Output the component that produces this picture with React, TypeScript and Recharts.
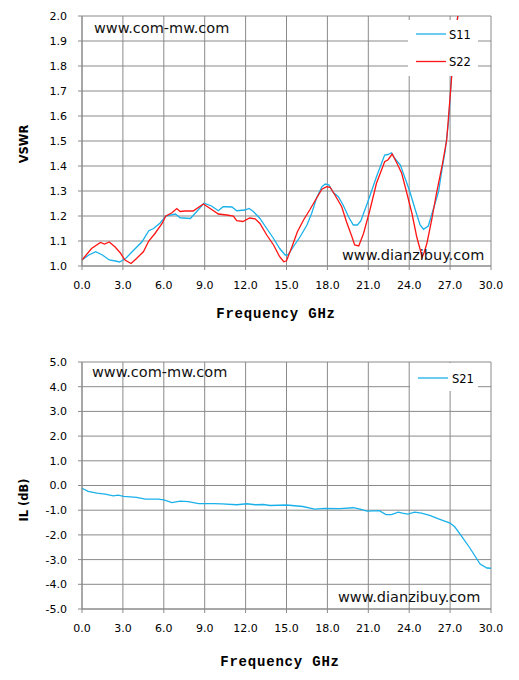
import { LineChart, Line, XAxis, YAxis, CartesianGrid, Legend } from 'recharts'

// VSWR, S11 (cyan)
const s11Freq = [0, 0.5, 1.0, 1.5, 2.0, 2.45, 2.75, 3.2, 3.8, 4.4, 4.9, 5.25, 5.75, 6.15, 6.85, 7.2, 7.95, 8.45, 8.95, 9.5, 10.0, 10.35, 10.6, 11.0, 11.35, 11.95, 12.25, 12.55, 13.05, 13.55, 14.05, 14.5, 14.9, 15.1, 15.5, 16.0, 16.5, 16.85, 17.2, 17.6, 17.85, 18.1, 18.45, 18.8, 19.15, 19.55, 19.9, 20.2, 20.45, 21.0, 21.6, 22.2, 22.45, 22.7, 22.95, 23.35, 23.7, 24.05, 24.45, 24.8, 25.05, 25.4, 25.75, 26.15, 26.4, 26.65, 26.9, 27.1, 27.35, 27.6]
const s11Vswr = [1.024, 1.044, 1.057, 1.044, 1.024, 1.02, 1.016, 1.03, 1.064, 1.097, 1.141, 1.15, 1.173, 1.2, 1.208, 1.193, 1.19, 1.22, 1.251, 1.24, 1.221, 1.237, 1.237, 1.236, 1.221, 1.224, 1.23, 1.219, 1.19, 1.15, 1.11, 1.07, 1.044, 1.044, 1.077, 1.117, 1.164, 1.211, 1.271, 1.317, 1.328, 1.325, 1.293, 1.277, 1.244, 1.197, 1.164, 1.164, 1.18, 1.262, 1.357, 1.444, 1.446, 1.453, 1.43, 1.404, 1.351, 1.297, 1.224, 1.164, 1.147, 1.16, 1.224, 1.297, 1.384, 1.464, 1.584, 1.757, 1.9, 2.02]

// VSWR, S22 (red)
const s22Freq = [0, 0.7, 1.35, 1.65, 2.0, 2.45, 2.8, 3.15, 3.6, 4.0, 4.5, 4.9, 5.35, 5.85, 6.15, 6.6, 6.95, 7.2, 7.55, 8.15, 8.9, 9.4, 10.0, 10.6, 11.1, 11.35, 11.8, 12.3, 12.7, 13.05, 13.55, 14.05, 14.5, 14.8, 15.0, 15.4, 15.8, 16.25, 16.7, 17.2, 17.6, 17.95, 18.2, 18.55, 19.05, 19.4, 19.8, 20.0, 20.3, 20.65, 21.1, 21.6, 22.2, 22.45, 22.75, 23.1, 23.45, 23.8, 24.2, 24.55, 24.8, 24.95, 25.1, 25.3, 25.65, 26.0, 26.4, 26.75, 27.0, 27.25, 27.65]
const s22Vswr = [1.024, 1.07, 1.094, 1.088, 1.096, 1.075, 1.053, 1.024, 1.01, 1.03, 1.057, 1.1, 1.13, 1.168, 1.2, 1.213, 1.23, 1.218, 1.22, 1.22, 1.248, 1.23, 1.208, 1.204, 1.2, 1.181, 1.178, 1.192, 1.189, 1.17, 1.124, 1.084, 1.037, 1.017, 1.021, 1.077, 1.137, 1.184, 1.224, 1.271, 1.307, 1.317, 1.315, 1.284, 1.237, 1.177, 1.117, 1.084, 1.08, 1.13, 1.22, 1.331, 1.417, 1.425, 1.448, 1.411, 1.371, 1.297, 1.211, 1.117, 1.067, 1.035, 1.055, 1.091, 1.184, 1.291, 1.397, 1.504, 1.677, 1.851, 2.04]

// insertion loss, S21
const s21Freq = [0, 0.45, 1.1, 1.7, 2.3, 2.65, 3.05, 4.0, 4.65, 5.6, 6.0, 6.6, 7.2, 7.8, 8.55, 9.65, 10.25, 11.35, 12.1, 12.7, 13.3, 13.8, 15.0, 16.2, 17.05, 17.8, 18.9, 19.9, 20.4, 20.9, 21.8, 22.3, 22.7, 23.2, 23.5, 23.9, 24.4, 24.9, 25.5, 26.2, 27.0, 27.35, 27.85, 28.45, 29.2, 29.7, 30.0]
const s21Loss = [-0.11, -0.24, -0.31, -0.35, -0.42, -0.39, -0.44, -0.48, -0.55, -0.55, -0.58, -0.69, -0.63, -0.65, -0.73, -0.73, -0.74, -0.78, -0.74, -0.78, -0.77, -0.81, -0.79, -0.85, -0.96, -0.93, -0.94, -0.9, -0.96, -1.04, -1.02, -1.18, -1.18, -1.08, -1.12, -1.16, -1.08, -1.12, -1.21, -1.36, -1.52, -1.68, -2.06, -2.53, -3.18, -3.34, -3.35]

const freqTicks = [0, 3, 6, 9, 12, 15, 18, 21, 24, 27, 30]
const vswrTicks = [1.0, 1.1, 1.2, 1.3, 1.4, 1.5, 1.6, 1.7, 1.8, 1.9, 2.0]
const lossTicks = [-5, -4, -3, -2, -1, 0, 1, 2, 3, 4, 5]

const toPoints = (f: number[], v: number[]) => f.map((x, i) => ({ f: x, v: v[i] }))

const GRID = '#8a8a8a'
const CYAN = '#1ab1ea'
const RED = '#ff1414'
const SANS = '"DejaVu Sans", Verdana, sans-serif'
const tickStyle = { fontSize: 11, fill: '#000', fontFamily: SANS }
const fmt = (v: number) => v.toFixed(1)

function BoxLegend(props: any) {
  const { payload = [], w, h, rowY, lineX, textX } = props
  return (
    <svg width={w} height={h} style={{ display: 'block' }}>
      <rect x={0} y={0} width={w} height={h} fill="#fff" />
      {payload.map((p: any, i: number) => (
        <g key={p.value}>
          <line x1={lineX[0]} x2={lineX[1]} y1={rowY[i]} y2={rowY[i]} stroke={p.color} strokeWidth={1.3} />
          <text x={textX} y={rowY[i] + 4.5} fontSize={11.5} fontFamily={SANS} fill="#000">{p.value}</text>
        </g>
      ))}
    </svg>
  )
}

function VswrChart() {
  return (
    <LineChart width={519} height={340} margin={{ top: 16, right: 28, bottom: 44, left: 0 }}>
      <CartesianGrid stroke={GRID} strokeWidth={1} />
      <XAxis type="number" dataKey="f" domain={[0, 30]} ticks={freqTicks} tickFormatter={fmt}
        height={30} tickSize={4} tickMargin={11} stroke={GRID} tick={tickStyle} interval={0} />
      <YAxis type="number" domain={[1, 2]} ticks={vswrTicks} tickFormatter={fmt} allowDataOverflow
        width={82} tickSize={4} tickMargin={11} stroke={GRID} tick={tickStyle} interval={0} />
      <Legend layout="vertical" align="center" verticalAlign="middle"
        wrapperStyle={{ top: 20, left: 408, width: 70, height: 56 }}
        content={(p: any) => <BoxLegend {...p} w={70} h={56} rowY={[14, 41.5]} lineX={[8, 38]} textX={41} />} />
      <Line data={toPoints(s11Freq, s11Vswr)} dataKey="v" name="S11" type="linear" stroke={CYAN}
        strokeWidth={1.3} dot={false} isAnimationActive={false} />
      <Line data={toPoints(s22Freq, s22Vswr)} dataKey="v" name="S22" type="linear" stroke={RED}
        strokeWidth={1.3} dot={false} isAnimationActive={false} />
    </LineChart>
  )
}

function LossChart() {
  return (
    <LineChart width={519} height={340} margin={{ top: 22, right: 28, bottom: 41, left: 0 }}>
      <CartesianGrid stroke={GRID} strokeWidth={1} />
      <XAxis type="number" dataKey="f" domain={[0, 30]} ticks={freqTicks} tickFormatter={fmt}
        height={30} tickSize={4} tickMargin={11} stroke={GRID} tick={tickStyle} interval={0} />
      <YAxis type="number" domain={[-5, 5]} ticks={lossTicks} tickFormatter={fmt}
        width={82} tickSize={4} tickMargin={11} stroke={GRID} tick={tickStyle} interval={0} />
      <Legend layout="vertical" align="center" verticalAlign="middle"
        wrapperStyle={{ top: 23, left: 410, width: 68, height: 28 }}
        content={(p: any) => <BoxLegend {...p} w={68} h={28} rowY={[15]} lineX={[8, 38]} textX={42} />} />
      <Line data={toPoints(s21Freq, s21Loss)} dataKey="v" name="S21" type="linear" stroke={CYAN}
        strokeWidth={1.3} dot={false} isAnimationActive={false} />
    </LineChart>
  )
}

export default function App() {
  const mono = '"Liberation Mono", "DejaVu Sans Mono", monospace'
  return (
    <div style={{ position: 'relative', width: 519, height: 680, background: '#fff' }}>
      <style>{'body{margin:0}'}</style>
      <div style={{ position: 'absolute', left: 0, top: 0 }}><VswrChart /></div>
      <div style={{ position: 'absolute', left: 0, top: 340 }}><LossChart /></div>
      <svg width={519} height={680} style={{ position: 'absolute', left: 0, top: 0, pointerEvents: 'none' }}>
        <g fontFamily={SANS} fontSize={14.5} fill="#111">
          <text x={94} y={33.3}>www.com-mw.com</text>
          <text x={342} y={259.5}>www.dianzibuy.com</text>
          <text x={92} y={377}>www.com-mw.com</text>
          <text x={338} y={601.7}>www.dianzibuy.com</text>
        </g>
        <g fontFamily={SANS} fontSize={11.5} fontWeight="bold" fill="#000" textAnchor="middle">
          <text transform="translate(28.3,144) rotate(-90)">VSWR</text>
          <text transform="translate(28.3,500) rotate(-90)">IL (dB)</text>
        </g>
        <g fontFamily={mono} fontSize={14} fontWeight="bold" fill="#000" textAnchor="middle" letterSpacing={0.8}>
          <text x={276} y={317.5}>Frequency GHz</text>
          <text x={280} y={666}>Frequency GHz</text>
        </g>
      </svg>
    </div>
  )
}
